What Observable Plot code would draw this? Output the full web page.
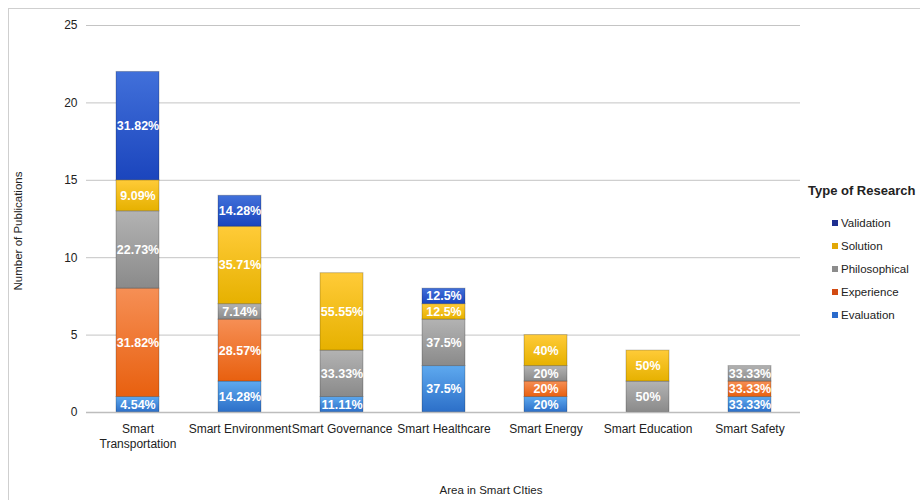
<!DOCTYPE html>
<html>
<head>
<meta charset="utf-8">
<script src="https://cdn.jsdelivr.net/npm/d3@7"></script>
<script src="https://cdn.jsdelivr.net/npm/@observablehq/plot@0.6"></script>
<style>
  html, body { margin: 0; padding: 0; background: #fff; overflow: hidden; }
  #wrap { position: relative; width: 920px; height: 500px; font-family: "Liberation Sans", Arial, sans-serif; color: #222; }
  #frame { position: absolute; left: 8px; top: 8px; width: 940px; height: 520px; border: 1px solid #cfcfcf; box-sizing: border-box; }
  #chart { position: absolute; left: 0; top: 0; }
  .ytitle { position: absolute; left: 18px; top: 231px; transform: translate(-50%, -50%) rotate(-90deg); font-size: 11.5px; white-space: nowrap; color: #222; }
  .xtitle { position: absolute; left: 491px; top: 490px; transform: translate(-50%, -50%); font-size: 11.5px; white-space: nowrap; color: #222; }
  #legend { position: absolute; left: 808px; top: 183px; }
  #legend .lt { font-weight: bold; font-size: 13px; color: #222; margin-bottom: 13px; white-space: nowrap; }
  #legend .it { display: flex; align-items: center; height: 23px; margin-left: 24px; font-size: 11.5px; color: #222; }
  #legend .sw { width: 6px; height: 6px; margin-right: 3px; }
</style>
</head>
<body>
<div id="wrap">
  <div id="frame"></div>
  <div id="chart"></div>
  <div class="ytitle">Number of Publications</div>
  <div class="xtitle">Area in Smart CIties</div>
  <div id="legend"></div>
</div>
<script>
// ---- data ----
const categories = ["Smart Transportation", "Smart Environment", "Smart Governance", "Smart Healthcare", "Smart Energy", "Smart Education", "Smart Safety"];
const tickLabels = ["Smart\nTransportation", "Smart Environment", "Smart Governance", "Smart Healthcare", "Smart Energy", "Smart Education", "Smart Safety"];
const types = ["Evaluation", "Experience", "Philosophical", "Solution", "Validation"];
const evaluation    = [1, 2, 1, 3, 1, 0, 1];
const experience    = [7, 4, 0, 0, 1, 0, 1];
const philosophical = [5, 1, 3, 3, 1, 2, 1];
const solution      = [2, 5, 5, 1, 2, 2, 0];
const validation    = [7, 2, 0, 1, 0, 0, 0];
const evaluationLabels    = ["4.54%", "14.28%", "11.11%", "37.5%", "20%", "", "33.33%"];
const experienceLabels    = ["31.82%", "28.57%", "", "", "20%", "", "33.33%"];
const philosophicalLabels = ["22.73%", "7.14%", "33.33%", "37.5%", "20%", "50%", "33.33%"];
const solutionLabels      = ["9.09%", "35.71%", "55.55%", "12.5%", "40%", "50%", ""];
const validationLabels    = ["31.82%", "14.28%", "", "12.5%", "", "", ""];
const yTicks = [0, 5, 10, 15, 20, 25];

// ---- styles ----
const gradients = {
  Evaluation:    ["#5ea9ef", "#2c6fc8"],
  Experience:    ["#f68f55", "#e8600f"],
  Philosophical: ["#b3b3b3", "#8a8a8a"],
  Solution:      ["#ffcb38", "#e6b100"],
  Validation:    ["#4170da", "#1b45bd"]
};
const legendColors = {
  Validation: "#1f2f90", Solution: "#e2a806", Philosophical: "#8c8c8c", Experience: "#d24a12", Evaluation: "#2b6bcc"
};

const seriesValues = [evaluation, experience, philosophical, solution, validation];
const seriesLabels = [evaluationLabels, experienceLabels, philosophicalLabels, solutionLabels, validationLabels];
const rows = [];
types.forEach((t, i) => {
  categories.forEach((c, j) => {
    if (seriesValues[i][j] > 0) rows.push({category: c, type: t, value: seriesValues[i][j], label: seriesLabels[i][j]});
  });
});

const chart = Plot.plot({
  width: 920,
  height: 500,
  marginLeft: 86,
  marginRight: 120,
  marginTop: 25,
  marginBottom: 88,
  style: {fontFamily: "'Liberation Sans', Arial, sans-serif", fontSize: "12px", color: "#222", background: "transparent"},
  x: {domain: categories, paddingInner: 0.58, paddingOuter: 0.29, label: null},
  y: {domain: [0, 25], label: null},
  color: {domain: types, range: types.map((t, i) => `url(#grad${i})`), type: "ordinal"},
  marks: [
    Plot.gridY(yTicks, {stroke: "#c4c4c4", strokeOpacity: 1, strokeWidth: 1}),
    Plot.axisY(yTicks, {tickSize: 0, tickPadding: 9, label: null, fontSize: 12}),
    Plot.axisX({tickSize: 0, tickPadding: 10, label: null, fontSize: 12, lineHeight: 1.25, tickFormat: (d) => tickLabels[categories.indexOf(d)]}),
    Plot.barY(rows, Plot.stackY({x: "category", y: "value", fill: "type", stroke: "rgba(0,0,0,0.22)", strokeWidth: 1, order: types})),
    Plot.ruleY([0], {stroke: "#bdbdbd", strokeWidth: 1.5}),
    Plot.text(rows, Plot.stackY({x: "category", y: "value", text: "label", z: "type", order: types, fill: "white", fontWeight: "bold", fontSize: 12.5}))
  ]
});

// gradient defs
const ns = "http://www.w3.org/2000/svg";
const defs = document.createElementNS(ns, "defs");
types.forEach((t, i) => {
  const g = document.createElementNS(ns, "linearGradient");
  g.setAttribute("id", `grad${i}`);
  g.setAttribute("x1", "0"); g.setAttribute("y1", "0"); g.setAttribute("x2", "0"); g.setAttribute("y2", "1");
  const s1 = document.createElementNS(ns, "stop");
  s1.setAttribute("offset", "0"); s1.setAttribute("stop-color", gradients[t][0]);
  const s2 = document.createElementNS(ns, "stop");
  s2.setAttribute("offset", "1"); s2.setAttribute("stop-color", gradients[t][1]);
  g.appendChild(s1); g.appendChild(s2);
  defs.appendChild(g);
});
chart.insertBefore(defs, chart.firstChild);
document.getElementById("chart").appendChild(chart);

// legend
const legend = document.getElementById("legend");
const lt = document.createElement("div");
lt.className = "lt"; lt.textContent = "Type of Research";
legend.appendChild(lt);
types.slice().reverse().forEach(t => {
  const it = document.createElement("div");
  it.className = "it";
  const sw = document.createElement("span");
  sw.className = "sw"; sw.style.background = legendColors[t];
  const tx = document.createElement("span");
  tx.textContent = t;
  it.appendChild(sw); it.appendChild(tx);
  legend.appendChild(it);
});
</script>
</body>
</html>
